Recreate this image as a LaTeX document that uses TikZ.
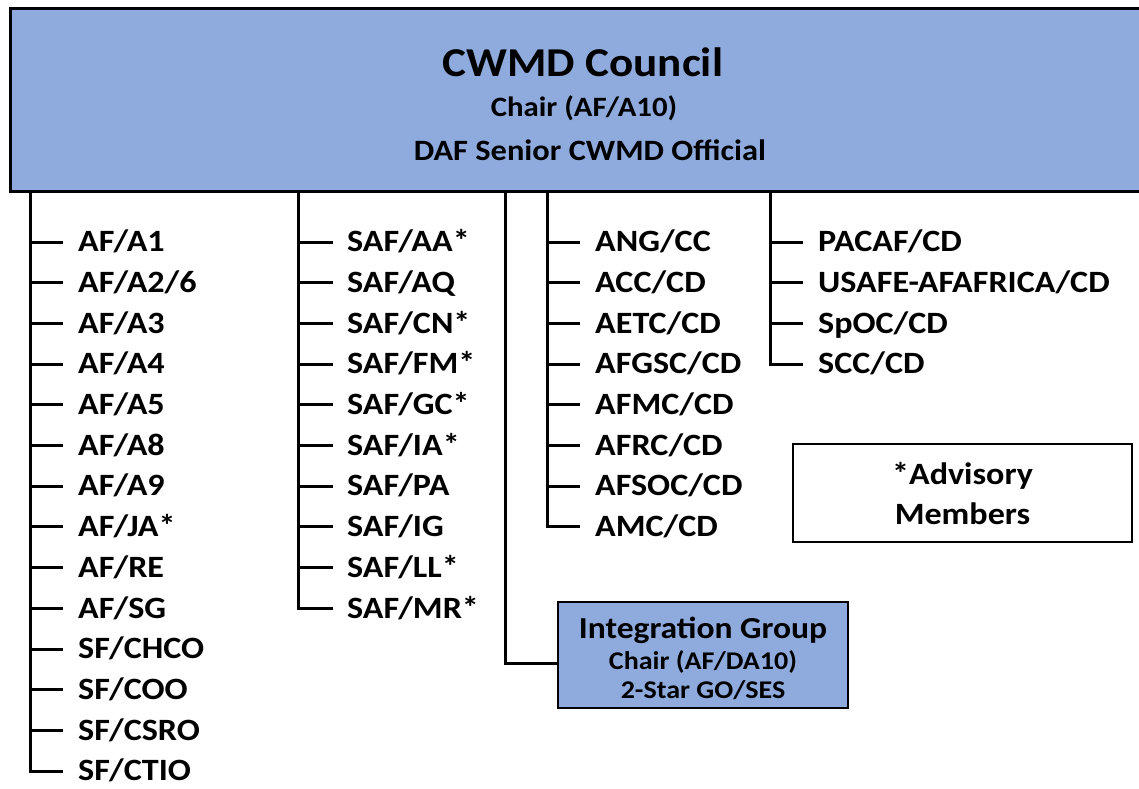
\documentclass[tikz,border=0pt]{standalone}
\usepackage{fontspec}
\setmainfont{Carlito}[FakeStretch=1.1]
\usetikzlibrary{calc}
\definecolor{boxblue}{HTML}{8FAADC}
\begin{document}
\begin{tikzpicture}[x=1pt,y=-1pt,
  conn/.style={line width=3pt},
  item/.style={anchor=west, font=\bfseries\fontsize{31}{31}\selectfont, inner xsep=15pt, inner ysep=0pt, text height=19.5pt, text depth=0pt},
  bluebox/.style={draw, fill=boxblue, inner sep=0pt},
  txt/.style={inner sep=0pt, font=\bfseries},
]
\useasboundingbox (0,0) rectangle (1139,788);
% council
\node[bluebox, line width=3pt, minimum width=1146pt, minimum height=183pt] (council) at (583,99.5) {};
\node[txt, font=\bfseries\fontsize{41}{41}\selectfont] (t1) at (583,62) {CWMD Council};
\node[txt, font=\bfseries\fontsize{28}{28}\selectfont] (t2) at (584,108) {Chair (AF/A10)};
\node[txt, font=\bfseries\fontsize{29.5}{29.5}\selectfont] (t3) at (590,150) {DAF Senior CWMD Official};
% column 1
\coordinate (c1) at (30,190);
\foreach \lbl [count=\i from 0] in {AF/A1,AF/A2/6,AF/A3,AF/A4,AF/A5,AF/A8,AF/A9,AF/JA*,AF/RE,AF/SG,SF/CHCO,SF/COO,SF/CSRO,SF/CTIO}
  \node[item] (p\i) at (63,{242+40.7*\i}) {\lbl};
\draw[conn] (c1) |- (p13.west);
\foreach \i in {0,...,12} \draw[conn] (c1 |- p\i.west) -- (p\i.west);
% column 2
\coordinate (c2) at (298,190);
\foreach \lbl [count=\i from 0] in {SAF/AA*,SAF/AQ,SAF/CN*,SAF/FM*,SAF/GC*,SAF/IA*,SAF/PA,SAF/IG,SAF/LL*,SAF/MR*}
  \node[item, inner xsep=14pt] (q\i) at (333,{242+40.7*\i}) {\lbl};
\draw[conn] (c2) |- (q9.west);
\foreach \i in {0,...,8} \draw[conn] (c2 |- q\i.west) -- (q\i.west);
% column 4
\coordinate (c4) at (547,190);
\foreach \lbl [count=\i from 0] in {ANG/CC,ACC/CD,AETC/CD,AFGSC/CD,AFMC/CD,AFRC/CD,AFSOC/CD,AMC/CD}
  \node[item] (r\i) at (580,{242+40.7*\i}) {\lbl};
\draw[conn] (c4) |- (r7.west);
\foreach \i in {0,...,6} \draw[conn] (c4 |- r\i.west) -- (r\i.west);
% column 5
\coordinate (c5) at (770,190);
\foreach \lbl [count=\i from 0] in {PACAF/CD,USAFE-AFAFRICA/CD,SpOC/CD,SCC/CD}
  \node[item] (s\i) at (803,{242+40.7*\i}) {\lbl};
\draw[conn] (c5) |- (s3.west);
\foreach \i in {0,...,2} \draw[conn] (c5 |- s\i.west) -- (s\i.west);
% integration group
\node[bluebox, line width=2pt, minimum width=290pt, minimum height=106pt] (integ) at (703,655) {};
\node[txt, font=\bfseries\fontsize{30.5}{30.5}\selectfont] (i1) at (703,630) {Integration Group};
\node[txt, font=\bfseries\fontsize{25.5}{25.5}\selectfont] (i2) at (703,662) {Chair (AF/DA10)};
\node[txt, font=\bfseries\fontsize{25.5}{25.5}\selectfont] (i3) at (703,690) {2-Star GO/SES};
\coordinate (c3) at (505,190);
\draw[conn] (c3) |- ($(integ.west)+(0,8)$);
% advisory
\node[draw, line width=2pt, minimum width=339pt, minimum height=98pt, inner sep=0pt] (adv) at (962.5,493) {};
\node[txt, font=\bfseries\fontsize{31}{31}\selectfont] (a1) at (962.5,476) {*Advisory};
\node[txt, font=\bfseries\fontsize{31}{31}\selectfont] (a2) at (962.5,514) {Members};
\end{tikzpicture}
\end{document}
